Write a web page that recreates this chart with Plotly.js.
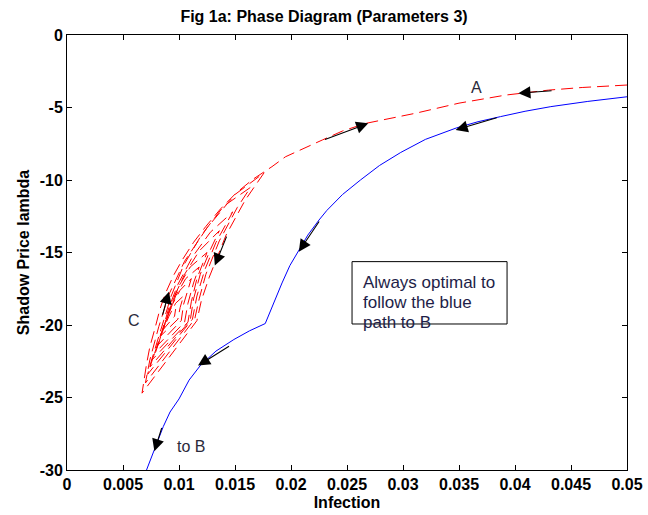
<!DOCTYPE html>
<html>
<head>
<meta charset="utf-8">
<script src="https://cdn.plot.ly/plotly-3.0.1.min.js"></script>
<style>html,body{margin:0;padding:0;background:#fff;}#chart{width:648px;height:515px;}</style>
</head>
<body>
<div id="chart"></div>
<script>
// Red trajectory (stable path into A plus the spiral around C)
const redX = [
  0.0500,0.0460,0.0430,0.0392,0.0350,0.0311,0.0267,0.0246,0.0228,0.0210,0.0195,0.0183,0.0166,0.0151,0.0137,0.0124,0.0113,0.0103,0.0095,0.0088,0.0083,0.0079,0.0074,0.0071,0.0067,
  0.0116,0.0120,0.0127,0.0131,0.0142,0.0159,0.0176,
  0.0150,0.0125,0.0105,0.0091,0.0082,0.0074,0.0070,
  0.0114,0.0118,0.0124,0.0136,0.0152,0.0164,
  0.0140,0.0120,0.0104,0.0093,0.0084,0.0076,0.0072,
  0.0112,0.0116,0.0123,0.0133,0.0148,
  0.0128,0.0112,0.0099,0.0091,0.0085,0.0078,0.0074,
  0.0110,0.0113,0.0119,0.0128,0.0136,
  0.0118,0.0105,0.0096,0.0089,0.0082,0.0076,
  0.0108,0.0111,0.0116,0.0125,
  0.0110,0.0100,0.0093,0.0086,0.0079,
  0.0105,0.0108,0.0113,0.0118,
  0.0106,0.0097,0.0090,0.0084,0.0081,
  0.0102,0.0104,0.0108,0.0111,
  0.0101,0.0094,0.0088,0.0083,
  0.0099,0.0101,0.0104,
  0.0097,0.0091,0.0086,
  0.0096,0.0097
];
const redY = [
  -3.45,-3.62,-3.80,-4.14,-4.70,-5.40,-6.09,-6.62,-7.24,-7.85,-8.40,-9.08,-9.95,-10.9,-12.0,-13.2,-14.3,-15.5,-16.6,-17.8,-18.9,-20.1,-21.5,-22.7,-24.7,
  -19.7,-18.3,-16.7,-15.9,-13.8,-11.4,-9.5,
  -11.0,-13.3,-15.6,-17.9,-20.1,-22.4,-24.0,
  -19.6,-18.2,-16.5,-14.2,-11.9,-10.5,
  -11.8,-13.8,-15.9,-18.0,-20.2,-22.3,-23.4,
  -19.6,-18.0,-16.2,-14.3,-12.2,
  -13.6,-15.3,-17.2,-18.8,-20.4,-22.0,-22.9,
  -19.7,-18.2,-16.5,-14.8,-13.5,
  -14.9,-16.5,-18.0,-19.5,-21.2,-22.4,
  -19.8,-18.4,-16.8,-15.0,
  -16.0,-17.3,-18.6,-20.3,-21.9,
  -19.8,-18.5,-17.1,-16.0,
  -16.8,-18.0,-19.4,-20.6,-21.4,
  -19.7,-18.6,-17.5,-16.8,
  -17.6,-18.6,-19.8,-20.8,
  -19.6,-18.8,-18.0,
  -18.5,-19.4,-20.3,
  -19.4,-18.9
];
// Blue optimal path to B
const blueX = [0.0500,0.0465,0.0432,0.0409,0.0387,0.0367,0.0348,0.0320,0.0298,0.0279,0.0262,0.0246,0.0232,0.0225,0.0215,0.0206,0.0199,0.0192,0.0185,0.0177,
               0.0163,0.0149,0.0133,0.0119,0.0109,0.0100,0.0092,0.0086,0.0081,0.0077,0.0074,0.0071];
const blueY = [-4.26,-4.58,-4.94,-5.26,-5.63,-5.98,-6.40,-7.20,-8.10,-9.00,-10.0,-11.0,-12.1,-12.76,-13.8,-14.94,-15.9,-17.1,-18.4,-19.9,
               -20.4,-21.0,-21.8,-22.8,-23.8,-25.1,-26.0,-27.0,-28.0,-28.85,-29.4,-30.0];

// Direction arrows: head (x,y) and tail (x,y)
const arrowHeadX = [0.0403,0.0269,0.0347,0.0207,0.0132,0.0091,0.0117,0.0078];
const arrowHeadY = [-4.02,-6.09,-6.55,-14.94,-15.9,-17.7,-22.8,-28.7];
const arrowTailX = [0.0434,0.0229,0.0385,0.0226,0.0143,0.0085,0.0146,0.0085];
const arrowTailY = [-3.84,-7.24,-5.68,-12.76,-13.8,-19.4,-21.4,-27.0];

const xTickVals = [0,0.005,0.01,0.015,0.02,0.025,0.03,0.035,0.04,0.045,0.05];
const xTickText = ['0','0.005','0.01','0.015','0.02','0.025','0.03','0.035','0.04','0.045','0.05'];
const yTickVals = [-30,-25,-20,-15,-10,-5,0];
const yTickText = ['-30','-25','-20','-15','-10','-5','0'];

const labelText = ['A','C','to B'];
const labelX = [0.0366,0.00595,0.01108];
const labelY = [-3.62,-19.71,-28.4];
const boxLines = ['Always optimal to','follow the blue','path to B'];

const boldFont = {family:'Liberation Sans, Arial, sans-serif', size:16, color:'#000', weight:'bold'};

const annotations = [];
for (let i = 0; i < arrowHeadX.length; i++) {
  annotations.push({x:arrowHeadX[i], y:arrowHeadY[i], ax:arrowTailX[i], ay:arrowTailY[i],
    xref:'x', yref:'y', axref:'x', ayref:'y', text:'', showarrow:true,
    arrowhead:2, arrowsize:2.2, arrowwidth:1.1, arrowcolor:'#000'});
}
for (let i = 0; i < labelText.length; i++) {
  annotations.push({x:labelX[i], y:labelY[i], xref:'x', yref:'y', text:labelText[i], showarrow:false,
    font:{family:'Liberation Sans, Arial, sans-serif', size:16, color:'#2a2a3a'}});
}
const boxLineY = [-17.1, -18.48, -19.86];
for (let i = 0; i < boxLines.length; i++) {
  annotations.push({x:0.02625, y:boxLineY[i], xref:'x', yref:'y', xanchor:'left', yanchor:'middle',
    text:boxLines[i], showarrow:false,
    font:{family:'Liberation Sans, Arial, sans-serif', size:17, color:'#1e1e48'}});
}

const traces = [
  {x:redX, y:redY, type:'scatter', mode:'lines', line:{color:'#ff0000', width:1, dash:'12px,6px'}, hoverinfo:'skip'},
  {x:blueX, y:blueY, type:'scatter', mode:'lines', line:{color:'#0000ff', width:1}, hoverinfo:'skip'}
];

const layout = {
  width:648, height:515,
  margin:{l:67, r:21, t:35, b:45},
  paper_bgcolor:'#fff', plot_bgcolor:'#fff',
  showlegend:false,
  title:{text:'Fig 1a: Phase Diagram (Parameters 3)', font:boldFont, x:0.5, xanchor:'center', y:0.968, yanchor:'middle'},
  xaxis:{range:[0,0.05], tickvals:xTickVals, ticktext:xTickText, ticks:'inside', ticklen:5, tickcolor:'#000',
    showline:true, linecolor:'#000', linewidth:1, mirror:'ticks', showgrid:false, zeroline:false,
    tickfont:boldFont, title:{text:'Infection', font:boldFont, standoff:4}, fixedrange:true},
  yaxis:{range:[-30,0], tickvals:yTickVals, ticktext:yTickText, ticks:'inside', ticklen:5, tickcolor:'#000',
    showline:true, linecolor:'#000', linewidth:1, mirror:'ticks', showgrid:false, zeroline:false,
    tickfont:boldFont, title:{text:'Shadow Price lambda', font:boldFont, standoff:6}, fixedrange:true},
  shapes:[{type:'rect', xref:'x', yref:'y', x0:0.02545, x1:0.03929, y0:-19.93, y1:-15.63,
    line:{color:'#000', width:1}, fillcolor:'rgba(0,0,0,0)'}],
  annotations:annotations
};

Plotly.newPlot('chart', traces, layout, {staticPlot:true, displayModeBar:false});
</script>
</body>
</html>
